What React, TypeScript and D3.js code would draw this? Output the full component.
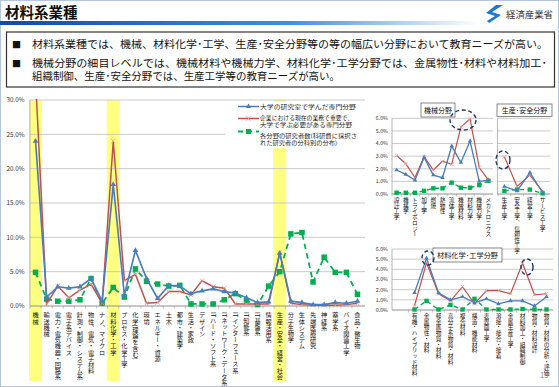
import React from 'react';
import * as d3 from 'd3';

// ---- data ----
const mainCategories = [
  '機械', '輸送機械', '電力・電気機器・回路系', '電子系デバイス', '計測・制御・システム系',
  '物性、電気・電子材料', 'ナノ、マイクロ', '材料化学・工学', 'プロセス・化学工学', '化学(理論を含む)',
  '環境', 'エネルギー・資源', '土木', '都市・建築学', '生活・家政', 'デザイン',
  'ITハード・ソフト系', 'ITネットワーク・データ系', 'ITインターフェース系', 'IT知能系', 'IT基盤系',
  '情報活用系', '生産・安全・経営・社会', '分子生物学', '生体システム', '先端医療研究', '神経系',
  '薬学系', 'バイオ関連工学', '食品・微生物',
];
const mainUniversity = [24.0, 1.3, 2.8, 2.6, 2.8, 4.0, 0.7, 17.7, 1.6, 8.1, 4.0, 1.1, 3.0, 2.9, 1.8, 2.2, 2.5, 2.1, 1.9, 1.2, 0.5, 0.6, 7.7, 0.7, 0.5, 0.2, 0.2, 0.5, 0.4, 0.7];
const mainCompany = [33.0, 0.3, 2.9, 1.2, 2.3, 3.2, 0.4, 24.0, 3.7, 4.6, 0.4, 0.5, 2.1, 2.1, 1.6, 3.7, 2.8, 2.6, 0.3, 0.3, 0.3, 0.3, 7.8, 0.4, 0.2, 0.1, 0.1, 0.1, 0.2, 0.4];
const mainResearchers = [4.9, 1.0, 0.7, 0.7, 0.9, 4.0, 0.4, 2.7, 1.3, 5.4, 3.6, 3.2, 2.9, 3.0, 0.3, 0.3, 0.3, 0.9, 1.8, 0.8, 0.2, 2.9, 5.0, 10.5, 10.7, 3.5, 7.1, 4.9, 4.9, 1.7];
const mainHighlighted = ['機械', '材料化学・工学', '生産・安全・経営・社会'];
const mainTicks = [0, 5, 10, 15, 20, 25, 30];

const mechCategories = ['設計工学', '機構学', 'トライボロジー', '加工学', '燃焼', '熱物性', '流体工学', '機械材料', '材料力学', '機械力学', 'メカトロニクス'];
const mechUniversity = [1.9, 1.55, 1.1, 2.9, 1.5, 1.3, 3.8, 2.5, 4.2, 1.0, 1.1];
const mechCompany = [3.05, 2.4, 1.3, 2.95, 1.9, 2.6, 2.35, 5.3, 5.95, 2.1, 1.1];
const mechResearchers = [0.1, 0.1, 0.1, 0.25, 0.45, 0.45, 0.9, 0.5, 0.5, 0.7, 1.05];

const prodCategories = ['生産工学', '安全工学、信頼性工学', '経営工学', 'サービス工学'];
const prodUniversity = [0.6, 0.25, 1.7, 0.1];
const prodCompany = [2.95, 0.6, 1.5, 0.2];
const prodResearchers = [0.25, 0.35, 0.35, 0.05];

const matCategories = ['有機・ハイブリッド材料', '金属物性・材料', '軽金属物質・材料', '高分子系物質・材料', '複合材料', '構造・機能材料', '表界面工学', '溶接・接合・接着', '金属生産工学', '材料加工・組織制御', '物質・材料設計', '物質・材料の分析・評価'];
const matUniversity = [1.7, 5.1, 1.7, 1.0, 1.3, 0.7, 1.1, 0.6, 0.9, 0.9, 0.4, 1.3];
const matCompany = [0.4, 4.65, 1.6, 0.9, 2.3, 0.6, 1.9, 1.9, 1.6, 4.6, 1.5, 1.6];
const matResearchers = [0.05, 0.9, 0.05, 0.5, 0.05, 1.1, 0.05, 0.05, 0.05, 0.1, 0.05, 0.05];
const smallTicks = [0, 1, 2, 3, 4, 5, 6];

const legendLabels = [
  ['大学の研究室で学んだ専門分野'],
  ['企業における現在の業務で重要で、', '大学で学ぶ必要がある専門分野'],
  ['各分野の研究者数(科研費に採択さ', 'れた研究者の分科別の分布)'],
];
const legendWidths = [[96], [93, 92], [97, 77]];

const FONT = '"Noto Sans CJK JP", "Noto Sans", sans-serif';
const BLUE = '#4a7ebb';
const RED = '#c0504d';
const GREEN = '#00b050';
const GRID = '#c4c4c4';

type ChartProps = {
  cats: string[];
  blue: number[];
  red: number[];
  green: number[];
  bandRange: [number, number];
  gridRange: [number, number];
  yRange: [number, number];
  yMax: number;
  ticks: number[];
  tickX?: number;
  tickFont: number;
  labelFont: number;
  labelTop: number;
  marker: number;
  highlight?: string[];
  highlightBottom?: number;
  clipId: string;
};

const pct = (v: number) => `${v.toFixed(1)}%`;

const LineChart: React.FC<ChartProps> = (p) => {
  const x = d3.scaleBand<string>().domain(p.cats).range(p.bandRange);
  const y = d3.scaleLinear().domain([0, p.yMax]).range(p.yRange);
  const cx = (c: string) => (x(c) as number) + x.bandwidth() / 2;
  const line = d3.line<number>()
    .x((_, i) => cx(p.cats[i]))
    .y((d) => y(d));
  const m = p.marker;
  const tri = d3.symbol(d3.symbolTriangle, m * m * 0.45)();
  const cross = d3.symbol(d3.symbolX, m * m * 0.5)();
  const [top, bottom] = [p.yRange[1], p.yRange[0]];

  return (
    <g>
      <defs>
        <clipPath id={p.clipId}>
          <rect x={p.gridRange[0] - 10} y={top - 1} width={p.gridRange[1] - p.gridRange[0] + 20} height={bottom - top + 10} />
        </clipPath>
      </defs>
      {p.highlight && p.highlight.map((c) => (
        <rect key={c} x={cx(c) - 6.5} y={top} width={13} height={(p.highlightBottom ?? bottom) - top} fill="#ffff80" />
      ))}
      {p.ticks.map((t) => (
        <line key={t} x1={p.gridRange[0]} x2={p.gridRange[1]} y1={y(t)} y2={y(t)} stroke={GRID} strokeWidth={0.9} />
      ))}
      <line x1={p.gridRange[0]} x2={p.gridRange[0]} y1={top} y2={bottom} stroke="#999" strokeWidth={0.7} />
      <line x1={p.gridRange[0]} x2={p.gridRange[1]} y1={bottom} y2={bottom} stroke="#999" strokeWidth={0.8} />
      {p.cats.map((c) => (
        <line key={c} x1={x(c) as number} x2={x(c) as number} y1={bottom} y2={bottom + 2.5} stroke="#999" strokeWidth={0.6} />
      ))}
      {p.tickX !== undefined && p.ticks.map((t) => (
        <text key={t} x={p.tickX} y={y(t) + p.tickFont * 0.35} textAnchor="end" fontSize={p.tickFont} fill="#333" fontFamily={FONT}>{pct(t)}</text>
      ))}
      {p.cats.map((c) => (
        <text key={c} x={cx(c)} y={p.labelTop} fontSize={p.labelFont} fill="#111" fontFamily={FONT}
          dominantBaseline="central" style={{ writingMode: 'vertical-rl' }}>{c}</text>
      ))}
      <g clipPath={`url(#${p.clipId})`}>
        <path d={line(p.green) ?? ''} fill="none" stroke={GREEN} strokeWidth={m * 0.32} strokeDasharray={`${m},${m * 0.75}`} />
        {p.green.map((v, i) => (
          <rect key={i} x={cx(p.cats[i]) - m / 2} y={y(v) - m / 2} width={m} height={m} fill={GREEN} />
        ))}
        <path d={line(p.red) ?? ''} fill="none" stroke={RED} strokeWidth={m * 0.27} />
        {p.red.map((v, i) => (
          <path key={i} d={cross ?? ''} transform={`translate(${cx(p.cats[i])},${y(v)})`} stroke="#e89a98" strokeWidth={0.8} fill="none" />
        ))}
        <path d={line(p.blue) ?? ''} fill="none" stroke={BLUE} strokeWidth={m * 0.3} />
        {p.blue.map((v, i) => (
          <path key={i} d={tri ?? ''} transform={`translate(${cx(p.cats[i])},${y(v)})`} fill={BLUE} />
        ))}
      </g>
    </g>
  );
};

const TitleBox: React.FC<{ x: number; y: number; w: number; h: number; text: string; size: number }> = ({ x, y, w, h, text, size }) => (
  <g>
    <rect x={x} y={y} width={w} height={h} fill="#fff" stroke="#555" strokeWidth={0.7} />
    <text x={x + w / 2} y={y + h / 2 + size * 0.36} textAnchor="middle" fontSize={size} fontFamily={FONT} fill="#111">{text}</text>
  </g>
);

const Ring: React.FC<{ cx: number; cy: number; rx: number; ry: number }> = (r) => (
  <ellipse {...r} fill="none" stroke="#1f3864" strokeWidth={1.4} strokeDasharray="4,2.6" />
);

const App: React.FC = () => {
  const legendY = [106.5, 118.5, 131.5];
  const legendTextY = [[108.8], [120.2, 126.8], [138.2, 145.0]];
  const legendColors = [BLUE, RED, GREEN];
  const tri = d3.symbol(d3.symbolTriangle, 12)();
  const cross = d3.symbol(d3.symbolX, 14)();
  return (
    <svg width={559} height={387} style={{ position: 'absolute', left: 0, top: 0, background: '#fff' }}>
      <defs>
        <linearGradient id="hdr" x1="0" x2="1" y1="0" y2="0">
          <stop offset="0%" stopColor="#0b4ea2" />
          <stop offset="60%" stopColor="#3d8fe0" />
          <stop offset="100%" stopColor="#ffffff" />
        </linearGradient>
      </defs>
      <rect x={0.5} y={0.5} width={558} height={386} fill="#fff" stroke="#b4c6de" strokeWidth={1} />

      {/* header */}
      <text x={5} y={18} fontSize={14.5} fontWeight="bold" fontFamily={FONT} fill="#111">材料系業種</text>
      <rect x={0} y={21} width={480} height={4} fill="url(#hdr)" />
      <path d="M496,5 L503,5 L492,12 L501,15 L489,23 L487,21 L495,16 L486,13 Z" fill="#1a7ad0" />
      <text x={506} y={18} fontSize={9.4} fontFamily={FONT} fill="#333">経済産業省</text>

      {/* bullet box */}
      <rect x={6.5} y={32} width={548} height={55} fill="#fff" stroke="#333" strokeWidth={1.2} />
      <text x={12} y={48} fontSize={9} fontFamily={FONT} fill="#111">■</text>
      <text x={32} y={48} fontSize={10.4} fontFamily={FONT} fill="#111" textLength={516} lengthAdjust="spacingAndGlyphs">材料系業種では、機械、材料化学･工学、生産･安全分野等の等の幅広い分野において教育ニーズが高い。</text>
      <text x={12} y={67} fontSize={9} fontFamily={FONT} fill="#111">■</text>
      <text x={32} y={67} fontSize={10.4} fontFamily={FONT} fill="#111" textLength={515} lengthAdjust="spacingAndGlyphs">機械分野の細目レベルでは、機械材料や機械力学、材料化学･工学分野では、金属物性･材料や材料加工･</text>
      <text x={32} y={80} fontSize={10.4} fontFamily={FONT} fill="#111" textLength={308} lengthAdjust="spacingAndGlyphs">組織制御、生産･安全分野では、生産工学等の教育ニーズが高い。</text>

      {/* main chart */}
      <LineChart cats={mainCategories} blue={mainUniversity} red={mainCompany} green={mainResearchers}
        bandRange={[30, 363]} gridRange={[30, 365]} yRange={[306, 100]} yMax={30} ticks={mainTicks}
        tickX={24.5} tickFont={6.3} labelFont={6.2} labelTop={312} marker={5.5}
        highlight={mainHighlighted} highlightBottom={381} clipId="clipMain" />

      {/* main legend */}
      <rect x={225} y={102} width={140} height={46} fill="#fff" />
      {legendLabels.map((lines, i) => (
        <g key={i}>
          <line x1={238} x2={259} y1={legendY[i]} y2={legendY[i]} stroke={legendColors[i]} strokeWidth={i === 2 ? 1.8 : 1.5} strokeDasharray={i === 2 ? '5,4' : undefined} />
          {i === 0 && <path d={tri ?? ''} transform={`translate(248.5,${legendY[i]})`} fill={BLUE} />}
          {i === 1 && <path d={cross ?? ''} transform={`translate(248.5,${legendY[i]})`} stroke="#e89a98" strokeWidth={0.8} fill="none" />}
          {i === 2 && <rect x={246} y={legendY[i] - 2.5} width={5} height={5} fill={GREEN} />}
          {lines.map((t, j) => (
            <text key={j} x={260} y={legendTextY[i][j]} fontSize={5.4} fontFamily={FONT} fill="#222"
              textLength={legendWidths[i][j]} lengthAdjust="spacingAndGlyphs">{t}</text>
          ))}
        </g>
      ))}

      {/* machine field */}
      <LineChart cats={mechCategories} blue={mechUniversity} red={mechCompany} green={mechResearchers}
        bandRange={[392, 493]} gridRange={[392, 493]} yRange={[194, 118.3]} yMax={6} ticks={smallTicks}
        tickX={388} tickFont={5.3} labelFont={5.7} labelTop={197} marker={4.4} clipId="clipMech" />
      <TitleBox x={421} y={103} w={34} h={14} text="機械分野" size={7} />
      <Ring cx={463} cy={120} rx={13} ry={10} />

      {/* production & safety field */}
      <LineChart cats={prodCategories} blue={prodUniversity} red={prodCompany} green={prodResearchers}
        bandRange={[498, 549]} gridRange={[497.5, 550]} yRange={[194, 118.3]} yMax={6} ticks={smallTicks}
        tickFont={5.3} labelFont={5.7} labelTop={197} marker={4.4} clipId="clipProd" />
      <TitleBox x={497} y={104} w={55} h={12.5} text="生産･安全分野" size={7} />
      <Ring cx={503} cy={160} rx={7} ry={9} />

      {/* materials chemistry field */}
      <LineChart cats={matCategories} blue={matUniversity} red={matCompany} green={matResearchers}
        bandRange={[408.5, 552.5]} gridRange={[392, 553]} yRange={[310, 249]} yMax={6} ticks={smallTicks}
        tickX={388} tickFont={5.3} labelFont={5.7} labelTop={313} marker={4.4} clipId="clipMat" />
      <TitleBox x={433} y={248} w={69} h={14} text="材料化学･工学分野" size={7.2} />
      <Ring cx={428} cy={258} rx={6} ry={7} />
      <Ring cx={527} cy={267} rx={6} ry={8} />

      <text x={540} y={378} fontSize={7.5} fontFamily={FONT} fill="#888">19</text>
    </svg>
  );
};

export default App;
